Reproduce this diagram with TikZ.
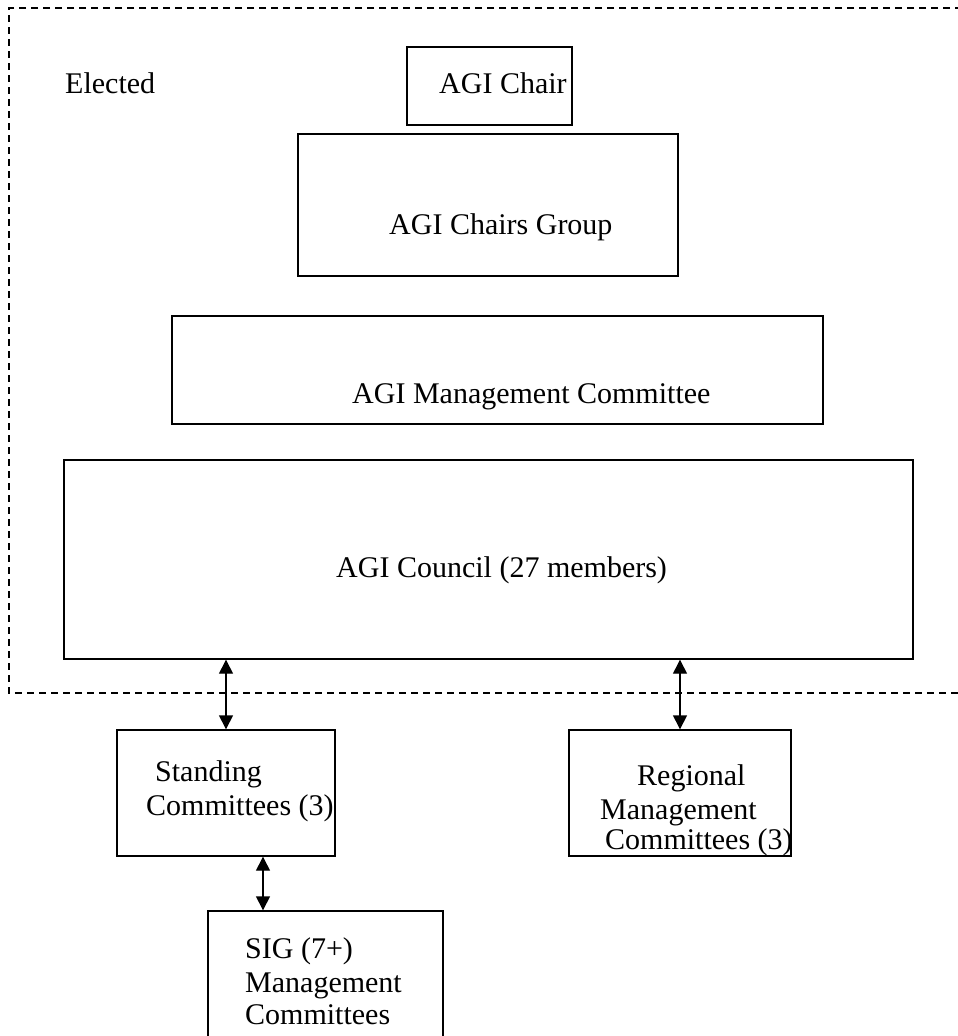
\documentclass[tikz,border=0pt]{standalone}
\usepackage{fontspec}
\setmainfont{Liberation Serif}
\usetikzlibrary{arrows.meta}
\begin{document}
\begin{tikzpicture}[x=1pt,y=-1pt,
  box/.style={draw,line width=1.4pt,inner sep=0pt},
  txt/.style={anchor=base west,inner sep=0pt,font=\fontsize{30}{34}\selectfont},
  link/.style={line width=1.4pt,{Triangle[length=14pt,width=14pt]}-{Triangle[length=14pt,width=14pt]}},
  elect/.style={line width=1.2pt,dash pattern=on 7pt off 5pt}]
\useasboundingbox (0,0) rectangle (958,1036);
% elected region
\draw[elect] (962,8) -- (9,8) -- (9,693) -- (962,693);
\node[txt] (elected) at (65,93) {Elected};
% boxes
\node[box,minimum width=165pt,minimum height=78pt] (chair) at (489.5,86) {};
\node[txt] (chairt) at (439,93) {AGI Chair};
\node[box,minimum width=380pt,minimum height=142pt] (group) at (488,205) {};
\node[txt] (groupt) at (389,234) {AGI Chairs Group};
\node[box,minimum width=651pt,minimum height=108pt] (mgmt) at (497.5,370) {};
\node[txt] (mgmtt) at (352,403) {AGI Management Committee};
\node[box,minimum width=849pt,minimum height=199pt] (council) at (488.5,559.5) {};
\node[txt] (councilt) at (336,577) {AGI Council (27 members)};
\node[box,minimum width=218pt,minimum height=126pt] (stand) at (226,793) {};
\node[txt] (standt1) at (155,781) {Standing};
\node[txt] (standt2) at (146,815) {Committees (3)};
\node[box,minimum width=222pt,minimum height=126pt] (reg) at (680,793) {};
\node[txt] (regt1) at (637,785) {Regional};
\node[txt] (regt2) at (600,819) {Management};
\node[txt] (regt3) at (605,849) {Committees (3)};
\node[box,minimum width=235pt,minimum height=160pt] (sig) at (325.5,991) {};
\node[txt] (sigt1) at (245,958) {SIG (7+)};
\node[txt] (sigt2) at (245,992) {Management};
\node[txt] (sigt3) at (245,1024) {Committees};
% connectors
\coordinate (sa) at (263,0);
\draw[link] (council.south -| stand.north) -- (stand.north);
\draw[link] (council.south -| reg.north) -- (reg.north);
\draw[link] (stand.south -| sa) -- (sig.north -| sa);
\end{tikzpicture}
\end{document}
